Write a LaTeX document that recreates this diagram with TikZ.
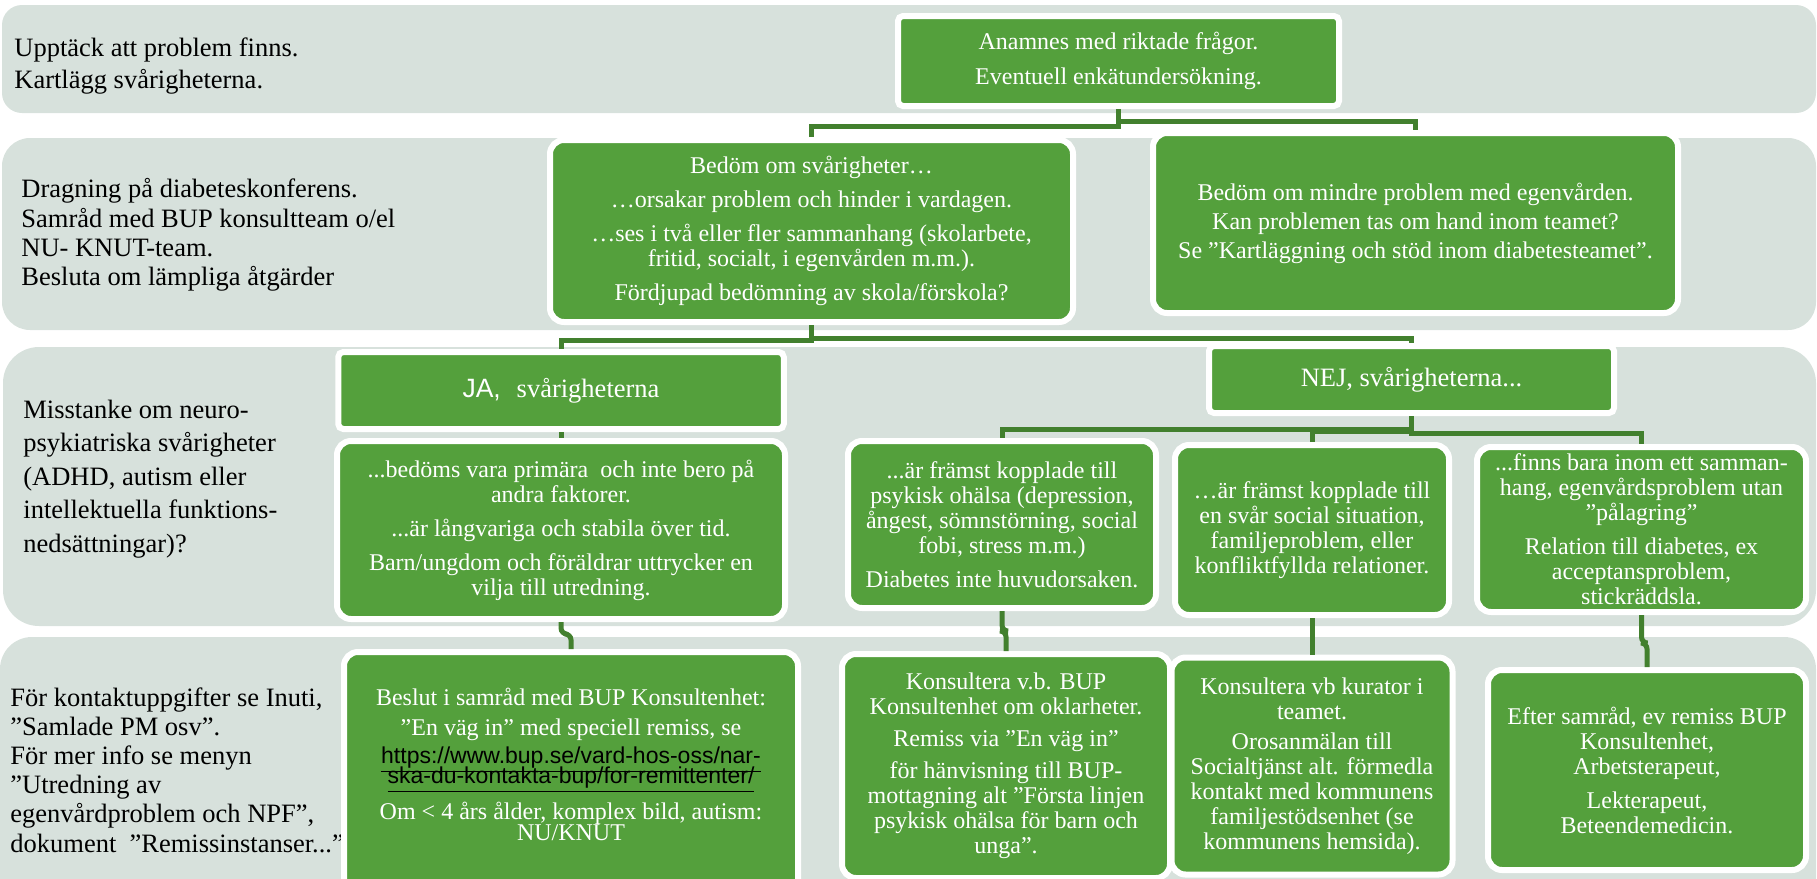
\documentclass[tikz,border=0pt]{standalone}
\usepackage{fontspec}
\setmainfont{Liberation Serif}
\newfontfamily\arialf{Liberation Sans}
\definecolor{bandc}{RGB}{215,225,220}
\definecolor{boxg}{RGB}{84,160,60}
\definecolor{lineg}{RGB}{66,128,46}
\newcommand{\urlline}[1]{{\arialf\fontsize{11.5pt}{12pt}\selectfont\color{black}\smash{\underline{#1}}}}
\begin{document}
\begin{tikzpicture}[x=0.5pt,y=-0.5pt,
  gbox/.style={fill=boxg, draw=white, line width=3pt, rounded corners=7pt, text=white,
    align=center, inner sep=0pt, font=\fontsize{12pt}{12.5pt}\selectfont},
  sqbox/.style={rounded corners=2.5pt},
  bigtext/.style={font=\fontsize{13.25pt}{15pt}\selectfont},
  conn/.style={draw=lineg, line width=2.5pt},
  lefttext/.style={anchor=west, align=left, inner sep=0pt, text=black}
]
\clip (0,0) rectangle (1817,879);
% bands
\fill[bandc, rounded corners=10pt] (2,5) rectangle (1816,113);
\fill[bandc, rounded corners=14pt] (2,138) rectangle (1816,330);
\fill[bandc, rounded corners=18pt] (3,347) rectangle (1816,626);
\fill[bandc, rounded corners=16pt] (0,637) rectangle (1816,940);

% left texts
\node[lefttext, font=\fontsize{13.25pt}{16pt}\selectfont] (L1) at (14,66)
  {Upptäck att problem finns.\\Kartlägg svårigheterna.};
\node[lefttext, font=\fontsize{13.25pt}{14.7pt}\selectfont] (L2) at (21,235)
  {Dragning på diabeteskonferens.\\Samråd med BUP konsultteam o/el\\NU- KNUT-team.\\Besluta om lämpliga åtgärder};
\node[lefttext, font=\fontsize{13.25pt}{16.7pt}\selectfont] (L3) at (23,479)
  {Misstanke om neuro-\\psykiatriska svårigheter\\(ADHD, autism eller\\intellektuella funktions-\\nedsättningar)?};
\node[lefttext, font=\fontsize{13.25pt}{14.6pt}\selectfont] (L4) at (10,770)
  {För kontaktuppgifter se Inuti,\\”Samlade PM osv”.\\För mer info se menyn\\”Utredning av\\egenvårdproblem och NPF”,\\dokument\ \ ”Remissinstanser...”};

% boxes
\node[gbox, sqbox, minimum width=220.5pt, minimum height=45pt] (A) at (1118.5,61)
  {Anamnes med riktade frågor.\\[5pt]Eventuell enkätundersökning.};
\node[gbox, minimum width=261.5pt, minimum height=91pt] (B) at (811.5,231)
  {Bedöm om svårigheter…\\[4.5pt]…orsakar problem och hinder i vardagen.\\[4.5pt]…ses i två eller fler sammanhang (skolarbete,\\fritid, socialt, i egenvården m.m.).\\[4.5pt]Fördjupad bedömning av skola/förskola?};
\node[gbox, minimum width=262.5pt, minimum height=90pt] (C) at (1415.5,223)
  {Bedöm om mindre problem med egenvården.\\[2pt]Kan problemen tas om hand inom teamet?\\[2pt]Se ”Kartläggning och stöd inom diabetesteamet”.};
\node[gbox, sqbox, bigtext, minimum width=222.75pt, minimum height=38.5pt] (JA) at (561,390.5)
  {{\arialf JA,}\hspace{0.6em}svårigheterna};
\node[gbox, sqbox, bigtext, minimum width=202.5pt, minimum height=33.5pt] (NEJ) at (1411.5,379.5)
  {NEJ, svårigheterna...};
\node[gbox, minimum width=224pt, minimum height=89pt] (D) at (561,530)
  {...bedöms vara primära\ \ och inte bero på\\andra faktorer.\\[4.5pt]...är långvariga och stabila över tid.\\[4.5pt]Barn/ungdom och föräldrar uttrycker en\\vilja till utredning.};
\node[gbox, minimum width=154pt, minimum height=83.5pt] (E) at (1002,524.5)
  {...är främst kopplade till\\psykisk ohälsa (depression,\\ångest, sömnstörning, social\\fobi, stress m.m.)\\[4.5pt]Diabetes inte huvudorsaken.};
\node[gbox, minimum width=137pt, minimum height=85pt] (F) at (1312,530)
  {…är främst kopplade till\\en svår social situation,\\familjeproblem, eller\\konfliktfyllda relationer.};
\node[gbox, minimum width=164.5pt, minimum height=82.5pt] (G) at (1641.5,529.5)
  {...finns bara inom ett samman-\\hang, egenvårdsproblem utan\\"pålagring”\\[4.5pt]Relation till diabetes, ex\\acceptansproblem,\\stickräddsla.};
\node[gbox, minimum width=227pt, minimum height=124pt] (H) at (571,776)
  {Beslut i samråd med BUP Konsultenhet:\\[2.5pt]”En väg in” med speciell remiss, se\\[1.5pt]
   \urlline{https://www.bup.se/vard-hos-oss/nar-}\\[-2.5pt]
   \urlline{ska-du-kontakta-bup/for-remittenter/}\\[5.5pt]
   Om < 4 års ålder, komplex bild, autism:\\[-2pt]NU/KNUT\\[-1pt]\mbox{}};
\node[gbox, minimum width=164pt, minimum height=112pt] (I) at (1006,766)
  {Konsultera v.b. BUP\\Konsultenhet om oklarheter.\\[3.5pt]Remiss via ”En väg in”\\[3.5pt]för hänvisning till BUP-\\mottagning alt ”Första linjen\\psykisk ohälsa för barn och\\unga”.};
\node[gbox, minimum width=140.5pt, minimum height=108.5pt] (J) at (1312,766)
  {Konsultera vb kurator i\\teamet.\\[2.5pt]Orosanmälan till\\Socialtjänst alt. förmedla\\kontakt med kommunens\\familjestödsenhet (se\\kommunens hemsida).};
\node[gbox, minimum width=159pt, minimum height=100pt] (K) at (1647,770)
  {Efter samråd, ev remiss BUP\\Konsultenhet,\\Arbetsterapeut,\\[4.5pt]Lekterapeut,\\Beteendemedicin.};

% connectors
\draw[conn] (A.south) -- ++(0,12) -| (C.north);
\draw[conn] (A.south) -- ++(0,17) -| (B.north);
\draw[conn] (B.south) -- ++(0,15) -| (JA.north);
\draw[conn] (B.south) -- ++(0,13) -| (NEJ.north);
\draw[conn] (JA.south) -- (D.north);
\draw[conn] (NEJ.south) -- ++(0,13) -| (E.north);
\draw[conn] (NEJ.south) -- ++(0,15) -| (F.north);
\draw[conn] (NEJ.south) -- ++(0,17) -| (G.north);
\draw[conn, rounded corners=3pt] (D.south) -- ++(0,12) -| (H.north);
\draw[conn, rounded corners=3pt] (E.south) -- ++(0,20) -| (I.north);
\draw[conn] (F.south) -- (J.north);
\draw[conn, rounded corners=3pt] (G.south) -- ++(0,28) -| (K.north);
\end{tikzpicture}
\end{document}
